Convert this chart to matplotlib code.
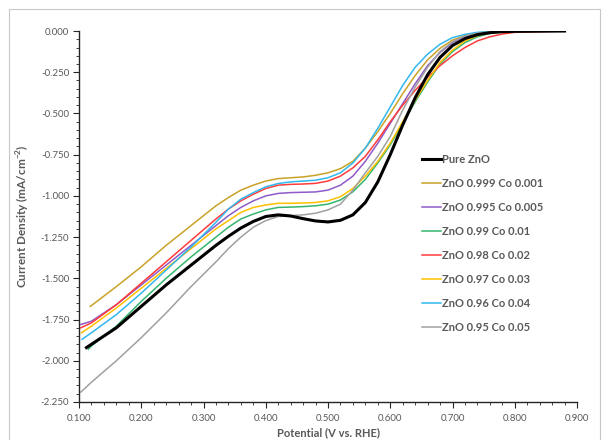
import matplotlib
matplotlib.use("Agg")
import matplotlib.pyplot as plt
from matplotlib.patches import Rectangle
from matplotlib.ticker import MultipleLocator, FormatStrFormatter

plt.rcParams['font.family'] = ['Lato', 'DejaVu Sans']

# common potential grid (V vs. RHE)
potential = [0.12, 0.16, 0.20, 0.24, 0.28, 0.32, 0.34, 0.36, 0.38, 0.40,
             0.42, 0.44, 0.46, 0.48, 0.50, 0.52, 0.54, 0.56, 0.58, 0.60,
             0.62, 0.64, 0.66, 0.68, 0.70, 0.72, 0.74, 0.76, 0.78, 0.80, 0.88]

labels = ["Pure ZnO", "ZnO 0.999 Co 0.001", "ZnO 0.995 Co 0.005", "ZnO 0.99 Co 0.01",
          "ZnO 0.98 Co 0.02", "ZnO 0.97 Co 0.03", "ZnO 0.96 Co 0.04", "ZnO 0.95 Co 0.05"]
colors = ["#000000", "#c9a227", "#8e5bc7", "#35b56e", "#ff3b3b", "#ffc000", "#31b8ee", "#a0a0a0"]

# first point of each scan (x, y)
start_x = [0.112, 0.118, 0.103, 0.115, 0.103, 0.104, 0.105, 0.103]
start_y = [-1.92, -1.67, -1.78, -1.93, -1.80, -1.83, -1.87, -2.19]

pure_zno = [-1.90, -1.80, -1.67, -1.54, -1.42, -1.30, -1.245, -1.195, -1.155, -1.125,
            -1.115, -1.122, -1.138, -1.152, -1.158, -1.148, -1.115, -1.04, -0.915, -0.75,
            -0.57, -0.405, -0.265, -0.16, -0.088, -0.046, -0.022, -0.01, -0.004, -0.002, 0.0]
co_0001 = [-1.665, -1.55, -1.43, -1.30, -1.18, -1.06, -1.01, -0.965, -0.935, -0.91,
           -0.895, -0.89, -0.885, -0.875, -0.86, -0.835, -0.79, -0.71, -0.61, -0.50,
           -0.38, -0.27, -0.175, -0.105, -0.055, -0.028, -0.012, -0.005, -0.002, 0.0, 0.0]
co_0005 = [-1.76, -1.66, -1.54, -1.42, -1.30, -1.18, -1.12, -1.07, -1.03, -1.00,
           -0.985, -0.98, -0.978, -0.976, -0.965, -0.935, -0.88, -0.79, -0.68, -0.56,
           -0.44, -0.32, -0.21, -0.13, -0.07, -0.035, -0.015, -0.006, -0.002, 0.0, 0.0]
co_001 = [-1.91, -1.79, -1.64, -1.50, -1.37, -1.25, -1.19, -1.14, -1.11, -1.085,
          -1.07, -1.068, -1.065, -1.06, -1.05, -1.025, -0.975, -0.90, -0.80, -0.69,
          -0.56, -0.43, -0.31, -0.20, -0.125, -0.07, -0.035, -0.015, -0.006, -0.002, 0.0]
co_002 = [-1.77, -1.66, -1.53, -1.40, -1.27, -1.14, -1.08, -1.03, -0.99, -0.955,
          -0.935, -0.93, -0.928, -0.924, -0.91, -0.88, -0.83, -0.76, -0.66, -0.55,
          -0.45, -0.36, -0.28, -0.21, -0.15, -0.10, -0.06, -0.035, -0.018, -0.008, 0.0]
co_003 = [-1.79, -1.68, -1.56, -1.44, -1.32, -1.20, -1.15, -1.10, -1.07, -1.055,
          -1.045, -1.045, -1.043, -1.04, -1.03, -1.005, -0.955, -0.88, -0.79, -0.68,
          -0.55, -0.42, -0.30, -0.19, -0.115, -0.06, -0.028, -0.012, -0.005, -0.002, 0.0]
co_004 = [-1.83, -1.72, -1.59, -1.45, -1.31, -1.16, -1.08, -1.02, -0.98, -0.945,
          -0.925, -0.915, -0.91, -0.905, -0.89, -0.86, -0.80, -0.71, -0.59, -0.46,
          -0.33, -0.22, -0.14, -0.08, -0.04, -0.02, -0.008, -0.003, -0.001, 0.0, 0.0]
co_005 = [-2.13, -2.00, -1.86, -1.71, -1.55, -1.40, -1.32, -1.25, -1.19, -1.15,
          -1.125, -1.12, -1.115, -1.105, -1.085, -1.05, -0.965, -0.86, -0.76, -0.64,
          -0.48, -0.34, -0.22, -0.125, -0.065, -0.03, -0.013, -0.005, -0.002, 0.0, 0.0]

series = [pure_zno, co_0001, co_0005, co_001, co_002, co_003, co_004, co_005]
widths = [2.2, 1.1, 1.1, 1.1, 1.1, 1.1, 1.1, 1.1]

fig = plt.figure(figsize=(6.04, 4.40), dpi=100)
ax = fig.add_axes([0.1308, 0.0864, 0.8245, 0.8431])

# draw the doped samples first, pure ZnO on top
order = [1, 2, 3, 4, 5, 6, 7, 0]
handles = {}
for i in order:
    xs = [start_x[i]] + potential
    ys = [start_y[i]] + series[i]
    h, = ax.plot(xs, ys, color=colors[i], lw=widths[i], label=labels[i],
                 zorder=3 if i == 0 else 2, solid_joinstyle='round')
    handles[i] = h

ax.set_xlim(0.1, 0.9)
ax.set_ylim(-2.25, 0.0)
ax.xaxis.set_major_locator(MultipleLocator(0.1))
ax.xaxis.set_minor_locator(MultipleLocator(0.02))
ax.yaxis.set_major_locator(MultipleLocator(0.25))
ax.yaxis.set_minor_locator(MultipleLocator(0.05))
ax.xaxis.set_major_formatter(FormatStrFormatter('%.3f'))
ax.yaxis.set_major_formatter(FormatStrFormatter('%.3f'))

for s in ['top', 'right']:
    ax.spines[s].set_visible(False)
for s in ['left', 'bottom']:
    ax.spines[s].set_color('#262626')
    ax.spines[s].set_linewidth(1.0)

ax.tick_params(which='major', direction='out', length=4, width=0.8, color='#262626',
               labelsize=7, labelcolor='#595959')
ax.tick_params(axis='x', which='major', pad=5)
ax.tick_params(axis='y', which='major', pad=3)
ax.tick_params(which='minor', direction='out', length=2.5, width=0.6, color='#262626')

ax.set_xlabel('Potential (V vs. RHE)', fontsize=8, fontweight='bold', color='#595959', labelpad=3)
ax.set_ylabel('Current Density (mA/cm$^{\\mathregular{-2}}$)', fontsize=8.5, fontweight='bold',
              color='#595959', labelpad=6)

leg = ax.legend([handles[i] for i in range(8)], labels, loc='upper left',
                bbox_to_anchor=(0.68, 0.68), frameon=False, handlelength=1.7,
                handletextpad=0.1, labelspacing=1.17, borderaxespad=0,
                prop={'size': 8, 'weight': 'bold'})
for t in leg.get_texts():
    t.set_color('#595959')

# chart area border (bottom edge runs off the canvas)
fig.patches.append(Rectangle((9 / 604, -5 / 440), 591 / 604, 436 / 440, transform=fig.transFigure,
                             fill=False, edgecolor='#c8c8c8', lw=0.8))

fig.savefig('out.png', dpi=100)
